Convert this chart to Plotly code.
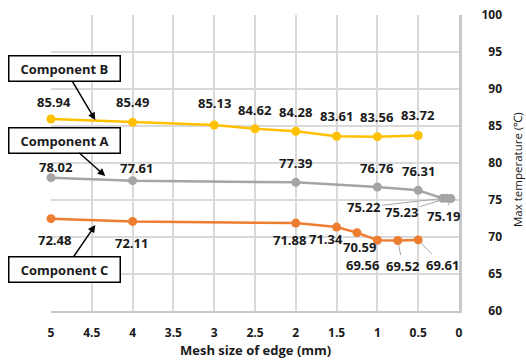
import plotly.graph_objects as go

# ---- data ----
x_b = [5, 4, 3, 2.5, 2, 1.5, 1, 0.5]
comp_b = [85.94, 85.49, 85.13, 84.62, 84.28, 83.61, 83.56, 83.72]

x_a = [5, 4, 2, 1, 0.5, 0.2, 0.15, 0.1]
comp_a = [78.02, 77.61, 77.39, 76.76, 76.31, 75.22, 75.23, 75.19]

x_c = [5, 4, 2, 1.5, 1.25, 1, 0.75, 0.5]
comp_c = [72.48, 72.11, 71.88, 71.34, 70.59, 69.56, 69.52, 69.61]

x_ticks = [5, 4.5, 4, 3.5, 3, 2.5, 2, 1.5, 1, 0.5, 0]
x_tick_text = ["5", "4.5", "4", "3.5", "3", "2.5", "2", "1.5", "1", "0.5", "0"]
y_ticks = [60, 65, 70, 75, 80, 85, 90, 95, 100]
y_tick_text = ["60", "65", "70", "75", "80", "85", "90", "95", "100"]

series_names = ["Component B", "Component A", "Component C"]
x_title = "Mesh size of edge (mm)"
y_title = "Max temperature (\u2103)"

# ---- styling / label placement (pixels: dx right, dy down, leader line flag) ----
colors = {"Component B": "#FFC000", "Component A": "#A5A5A5", "Component C": "#ED7D31"}
off_b = [(3, -17, 0), (0, -20, 0), (0, -22, 0), (0, -19, 0), (0, -19, 0), (0, -20, 0), (0, -20, 0), (0, -20, 0)]
off_a = [(5, -11, 0), (4, -13, 0), (0, -19, 0), (0, -19, 0), (0, -19, 0), (-79, 9, 1), (-45, 14, 1), (-7, 17, 1)]
off_c = [(3, 21, 0), (-1, 22, 0), (-6, 17, 0), (-11, 12, 0), (2, 14, 0), (-14, 25, 0), (5, 25, 1), (24, 25, 1)]
# callout arrow tips (data coords) and box-centre offsets (pixels)
callout_tips = {"Component B": (4.457, 85.81), "Component A": (4.335, 78.24), "Component C": (4.457, 71.62)}
callout_off = {"Component B": (-30.5, -51.5), "Component A": (-40.5, -36), "Component C": (-30.5, 44.5)}

FONT = "Open Sans"
W, H = 526, 360
ML, MR, MT, MB = 51, 24, 15, 49
plot_right = 459
PW = W - ML - MR
PH = H - MT - MB
x_dom_end = (plot_right - ML) / PW

fig = go.Figure()
data = [("Component B", x_b, comp_b, off_b),
        ("Component A", x_a, comp_a, off_a),
        ("Component C", x_c, comp_c, off_c)]

for name, xs, ys, _ in data:
    fig.add_trace(go.Scatter(
        x=xs, y=ys, mode="lines+markers", name=name,
        line=dict(color=colors[name], width=2.5),
        marker=dict(color=colors[name], size=9),
        showlegend=False, cliponaxis=False,
    ))

# dummy trace so the secondary (label) y-axis is rendered
fig.add_trace(go.Scatter(x=[None], y=[None], yaxis="y2", showlegend=False, hoverinfo="skip"))

annotations = []
for name, xs, ys, offs in data:
    for xv, yv, (dx, dy, lead) in zip(xs, ys, offs):
        txt = f"{yv:.2f}"
        if lead:
            annotations.append(dict(
                x=xv, y=yv, xref="x", yref="y", text=txt, showarrow=True,
                ax=dx, ay=dy, arrowhead=0, arrowwidth=1, arrowcolor="#A6A6A6",
                standoff=4, font=dict(family=FONT, size=13, color="#1a1a1a", weight="bold"),
            ))
        else:
            annotations.append(dict(
                x=xv, y=yv, xref="x", yref="y", text=txt, showarrow=False,
                xshift=dx, yshift=-dy,
                font=dict(family=FONT, size=13, color="#1a1a1a", weight="bold"),
            ))

for name in series_names:
    tx, ty = callout_tips[name]
    ax, ay = callout_off[name]
    annotations.append(dict(
        x=tx, y=ty, xref="x", yref="y", text=name, showarrow=True,
        ax=ax, ay=ay, arrowhead=2, arrowsize=1, arrowwidth=1.5, arrowcolor="#000000",
        bordercolor="#000000", borderwidth=1.5, borderpad=2, bgcolor="#FFFFFF",
        width=106, height=20,
        font=dict(family=FONT, size=13, color="#1a1a1a", weight="bold"),
    ))

# y axis title on the right
annotations.append(dict(
    x=(517 - ML) / PW, y=(H - MB - 170) / PH, xref="paper", yref="paper",
    xanchor="center", yanchor="middle",
    text=y_title, textangle=-90, showarrow=False,
    font=dict(family=FONT, size=11.5, color="#1a1a1a"),
))
# x axis title
annotations.append(dict(
    x=((ML + plot_right) / 2 - ML) / PW, y=-(350 - (H - MB)) / PH, xref="paper", yref="paper",
    xanchor="center", yanchor="middle", text=x_title, showarrow=False,
    font=dict(family=FONT, size=13, color="#1a1a1a", weight="bold"),
))

fig.update_layout(
    template="none",
    width=W, height=H,
    margin=dict(l=ML, r=MR, t=MT, b=MB, autoexpand=False),
    paper_bgcolor="white", plot_bgcolor="white",
    font=dict(family=FONT, color="#1a1a1a"),
    xaxis=dict(
        domain=[0, x_dom_end], range=[5, 0], tickvals=x_ticks, ticktext=x_tick_text,
        showgrid=True, gridcolor="#D9D9D9", gridwidth=2, zeroline=False,
        showline=True, linecolor="#C8C8C8", linewidth=2, automargin=False,
        ticks="", ticklabelstandoff=10,
        tickfont=dict(family=FONT, size=12, color="#1a1a1a", weight="bold"),
    ),
    yaxis=dict(
        range=[60, 100], tickvals=y_ticks, side="right", showticklabels=False,
        showgrid=True, gridcolor="#D9D9D9", gridwidth=2, zeroline=False, automargin=False,
        showline=True, linecolor="#C8C8C8", linewidth=2.5, ticks="",
    ),
    yaxis2=dict(
        range=[60, 100], tickvals=y_ticks, ticktext=y_tick_text, overlaying="y",
        side="left", anchor="free", position=1.0, showgrid=False, zeroline=False,
        showline=False, ticks="", automargin=False,
        tickfont=dict(family=FONT, size=12, color="#1a1a1a", weight="bold"),
    ),
    annotations=annotations,
)

fig.write_html("out.html", config={"displayModeBar": False},
               post_script="document.body.style.margin='0';")
